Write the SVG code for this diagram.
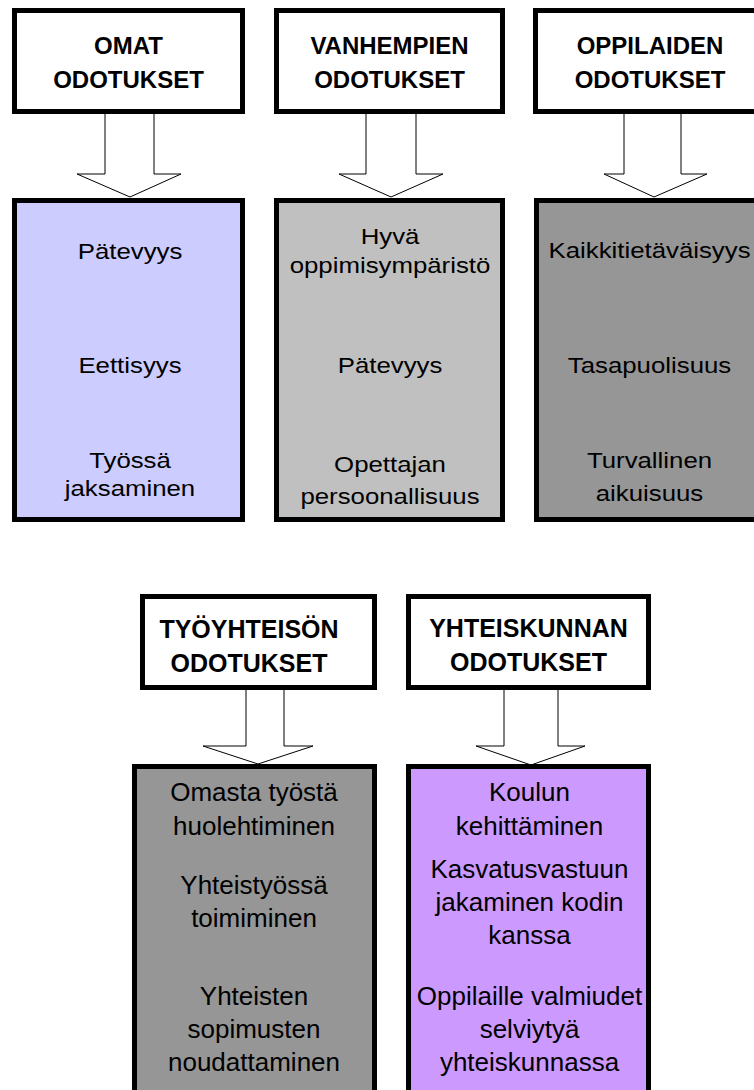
<svg xmlns="http://www.w3.org/2000/svg" width="754" height="1090" viewBox="0 0 754 1090">
<style>
.box{stroke:#000;stroke-width:5}
.hdr{fill:#fff}
.hd{font-family:"Liberation Sans",Arial,sans-serif;font-weight:bold;fill:#000;text-anchor:middle}
.ct{font-family:"Liberation Sans",Arial,sans-serif;fill:#000;text-anchor:middle}
.up{font-size:21.5px}
.lo{font-size:26px}
.arr{fill:#fff;stroke:#000;stroke-width:1}
</style>
<rect width="754" height="1090" fill="#fff"/>

<g id="connectors">
<path class="arr" d="M105,109 V174 H77 L130,197 L181,174 H154 V109"/>
<path class="arr" d="M366,109 V174 H339 L391,197 L443,174 H416 V109"/>
<path class="arr" d="M624,109 V174 H604 L654,197 L707,174 H681 V109"/>
<path class="arr" d="M246,688 V746 H203 L258,764 L313,746 H284 V688"/>
<path class="arr" d="M504,687 V746 H476 L531,765 L585,746 H558 V687"/>
</g>

<g id="h1">
<rect class="box hdr" x="14.5" y="10.5" width="228" height="101"/>
<text class="hd" font-size="24" x="128.5" y="54">OMAT</text>
<text class="hd" font-size="24" x="128.5" y="88">ODOTUKSET</text>
</g>
<g id="h2">
<rect class="box hdr" x="276.5" y="10.5" width="226" height="101"/>
<text class="hd" font-size="24" x="389.5" y="54">VANHEMPIEN</text>
<text class="hd" font-size="24" x="389.5" y="88">ODOTUKSET</text>
</g>
<g id="h3">
<rect class="box hdr" x="535.5" y="10.5" width="240" height="101"/>
<text class="hd" font-size="24" x="650" y="54">OPPILAIDEN</text>
<text class="hd" font-size="24" x="650" y="88">ODOTUKSET</text>
</g>

<g id="c1">
<rect class="box" fill="#ccccff" x="14.5" y="200.5" width="228" height="319"/>
<g transform="translate(130 0) scale(1.2 1)">
<text class="ct up" x="0" y="259">Pätevyys</text>
<text class="ct up" x="0" y="373">Eettisyys</text>
<text class="ct up" x="0" y="468">Työssä</text>
<text class="ct up" x="0" y="496">jaksaminen</text>
</g>
</g>
<g id="c2">
<rect class="box" fill="#c0c0c0" x="276.5" y="200.5" width="226" height="319"/>
<g transform="translate(390 0) scale(1.2 1)">
<text class="ct up" x="0" y="244">Hyvä</text>
<text class="ct up" x="0" y="273">oppimisympäristö</text>
<text class="ct up" x="0" y="373">Pätevyys</text>
<text class="ct up" x="0" y="472">Opettajan</text>
<text class="ct up" x="0" y="504">persoonallisuus</text>
</g>
</g>
<g id="c3">
<rect class="box" fill="#969696" x="536.5" y="200.5" width="240" height="319"/>
<g transform="translate(649.5 0) scale(1.2 1)">
<text class="ct up" x="0" y="258">Kaikkitietäväisyys</text>
<text class="ct up" x="0" y="373">Tasapuolisuus</text>
<text class="ct up" x="0" y="468">Turvallinen</text>
<text class="ct up" x="0" y="501">aikuisuus</text>
</g>
</g>

<g id="h4">
<rect class="box hdr" x="142.5" y="596.5" width="232" height="91"/>
<text class="hd" font-size="25" x="249" y="638">TYÖYHTEISÖN</text>
<text class="hd" font-size="25" x="249" y="672">ODOTUKSET</text>
</g>
<g id="h5">
<rect class="box hdr" x="408.5" y="596.5" width="240" height="91"/>
<text class="hd" font-size="25" x="528.5" y="637">YHTEISKUNNAN</text>
<text class="hd" font-size="25" x="528.5" y="671">ODOTUKSET</text>
</g>

<g id="c4">
<rect class="box" fill="#969696" x="134.5" y="766.5" width="240" height="340"/>
<text class="ct lo" x="254" y="801">Omasta työstä</text>
<text class="ct lo" x="254" y="835">huolehtiminen</text>
<text class="ct lo" x="254" y="894">Yhteistyössä</text>
<text class="ct lo" x="254" y="927">toimiminen</text>
<text class="ct lo" x="254" y="1005">Yhteisten</text>
<text class="ct lo" x="254" y="1038">sopimusten</text>
<text class="ct lo" x="254" y="1071">noudattaminen</text>
</g>
<g id="c5">
<rect class="box" fill="#cc99ff" x="408.5" y="766.5" width="240" height="340"/>
<text class="ct lo" x="529.5" y="801">Koulun</text>
<text class="ct lo" x="529.5" y="835">kehittäminen</text>
<text class="ct lo" x="529.5" y="878">Kasvatusvastuun</text>
<text class="ct lo" x="529.5" y="911">jakaminen kodin</text>
<text class="ct lo" x="529.5" y="944">kanssa</text>
<text class="ct lo" x="529.5" y="1005">Oppilaille valmiudet</text>
<text class="ct lo" x="529.5" y="1038">selviytyä</text>
<text class="ct lo" x="529.5" y="1071">yhteiskunnassa</text>
</g>
</svg>
